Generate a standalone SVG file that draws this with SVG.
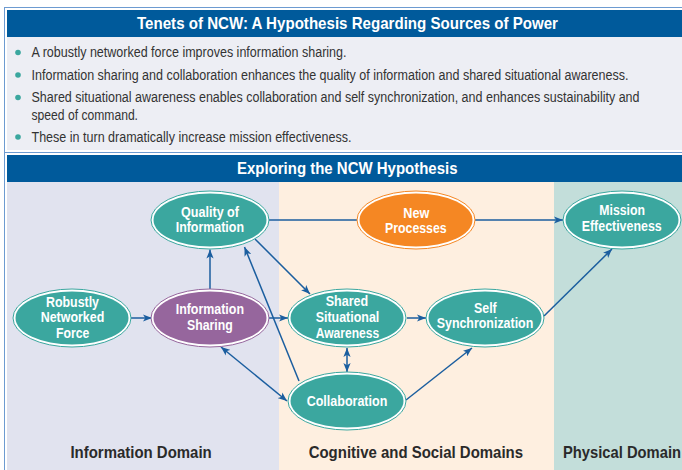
<svg xmlns="http://www.w3.org/2000/svg" width="682" height="470" viewBox="0 0 682 470">
<defs>
<style>
.bar{fill:#005A9B}
.ttl{font-family:"Liberation Sans Narrow","Liberation Sans",Arial,sans-serif;font-weight:bold;font-size:17px;fill:#fff}
.bul{font-family:"Liberation Sans Narrow","Liberation Sans",Arial,sans-serif;font-size:14px;fill:#333}
.dot{fill:#3BA79F}
.dom{font-family:"Liberation Sans Narrow","Liberation Sans",Arial,sans-serif;font-weight:bold;font-size:16.5px;fill:#2A2A2A}
.lbl{font-family:"Liberation Sans Narrow","Liberation Sans",Arial,sans-serif;font-weight:bold;font-size:14.5px;fill:#fff}
.ring{fill:#fff;stroke-width:1}
.teal .ring{stroke:#3BA79F}.teal .core{fill:#3BA79F}
.purple .ring{stroke:#96669D}.purple .core{fill:#96669D}
.orange .ring{stroke:#F58723}.orange .core{fill:#F58723}
.edge{fill:none;stroke:#1B5E9F;stroke-width:1.5}
.frame{fill:none;stroke:#6D9BD1;stroke-width:1}
</style>
<marker id="ah" viewBox="0 0 10 8" markerWidth="9" markerHeight="7.5" refX="10" refY="4" orient="auto-start-reverse" markerUnits="userSpaceOnUse">
<path d="M0,0 L10,4 L0,8 L2.5,4 z" fill="#1B5E9F"/>
</marker>
</defs>
<rect x="0" y="0" width="682" height="470" fill="#fff"/>

<g id="tenets-panel">
<rect class="frame" x="4.5" y="7.5" width="690" height="145"/>
<rect class="bar" x="7" y="10" width="680" height="27"/>
<rect x="7" y="37" width="680" height="113" fill="#EDEEF4"/>
<text class="ttl" x="137" y="29" textLength="421" lengthAdjust="spacingAndGlyphs">Tenets of NCW: A Hypothesis Regarding Sources of Power</text>
<circle class="dot" cx="18" cy="52.5" r="2.8"/>
<circle class="dot" cx="18" cy="75" r="2.8"/>
<circle class="dot" cx="18" cy="97.5" r="2.8"/>
<circle class="dot" cx="18" cy="137" r="2.8"/>
<text class="bul" x="31.5" y="57" textLength="315" lengthAdjust="spacingAndGlyphs">A robustly networked force improves information sharing.</text>
<text class="bul" x="31.5" y="79.5" textLength="597" lengthAdjust="spacingAndGlyphs">Information sharing and collaboration enhances the quality of information and shared situational awareness.</text>
<text class="bul" x="31.5" y="102" textLength="608" lengthAdjust="spacingAndGlyphs">Shared situational awareness enables collaboration and self synchronization, and enhances sustainability and</text>
<text class="bul" x="31.5" y="119.5" textLength="106.5" lengthAdjust="spacingAndGlyphs">speed of command.</text>
<text class="bul" x="31.5" y="141.5" textLength="320" lengthAdjust="spacingAndGlyphs">These in turn dramatically increase mission effectiveness.</text>
</g>

<g id="hypothesis-panel">
<rect class="frame" x="4.5" y="152.5" width="690" height="330"/>
<rect class="bar" x="7" y="155" width="680" height="27"/>
<text class="ttl" x="237" y="174" textLength="220.5" lengthAdjust="spacingAndGlyphs">Exploring the NCW Hypothesis</text>
<rect x="7" y="182" width="272" height="288" fill="#E1E3EF"/>
<rect x="279" y="182" width="275" height="288" fill="#FEEFE0"/>
<rect x="554" y="182" width="128" height="288" fill="#C3DEDA"/>
<text class="dom" x="70.4" y="458" textLength="141.3" lengthAdjust="spacingAndGlyphs">Information Domain</text>
<text class="dom" x="308.7" y="458" textLength="214.3" lengthAdjust="spacingAndGlyphs">Cognitive and Social Domains</text>
<text class="dom" x="563" y="458" textLength="118" lengthAdjust="spacingAndGlyphs">Physical Domain</text>
</g>

<g id="connectors">
<path class="edge" d="M131,318 L152,318" marker-end="url(#ah)"/>
<path class="edge" d="M210,289 L210,249.5" marker-end="url(#ah)"/>
<path class="edge" d="M268,318 L288,318" marker-end="url(#ah)"/>
<path class="edge" d="M255,239 L310,294" marker-end="url(#ah)"/>
<path class="edge" d="M299,381 L244.5,247" marker-end="url(#ah)"/>
<path class="edge" d="M221,347 L287,401" marker-start="url(#ah)" marker-end="url(#ah)"/>
<path class="edge" d="M347,348 L347,372" marker-start="url(#ah)" marker-end="url(#ah)"/>
<path class="edge" d="M407,318 L426,318" marker-end="url(#ah)"/>
<path class="edge" d="M406,400 L472,348" marker-end="url(#ah)"/>
<path class="edge" d="M269,220 L357,220"/>
<path class="edge" d="M475,220 L563,220" marker-end="url(#ah)"/>
<path class="edge" d="M544,316 L612,249" marker-end="url(#ah)"/>
</g>

<g id="quality-of-information" class="teal">
<ellipse class="ring" cx="210" cy="220" rx="59" ry="29"/>
<ellipse class="core" cx="210" cy="220" rx="56.5" ry="26.5"/>
<text class="lbl" x="181" y="216.5" textLength="58" lengthAdjust="spacingAndGlyphs">Quality of</text>
<text class="lbl" x="175.7" y="232" textLength="68.3" lengthAdjust="spacingAndGlyphs">Information</text>
</g>

<g id="robustly-networked-force" class="teal">
<ellipse class="ring" cx="72" cy="318" rx="59" ry="29"/>
<ellipse class="core" cx="72" cy="318" rx="56.5" ry="26.5"/>
<text class="lbl" x="46" y="306.5" textLength="53" lengthAdjust="spacingAndGlyphs">Robustly</text>
<text class="lbl" x="40.7" y="322" textLength="63.6" lengthAdjust="spacingAndGlyphs">Networked</text>
<text class="lbl" x="56" y="337.5" textLength="33.3" lengthAdjust="spacingAndGlyphs">Force</text>
</g>

<g id="information-sharing" class="purple">
<ellipse class="ring" cx="210" cy="318" rx="59" ry="29"/>
<ellipse class="core" cx="210" cy="318" rx="56.5" ry="26.5"/>
<text class="lbl" x="175.7" y="314" textLength="68.3" lengthAdjust="spacingAndGlyphs">Information</text>
<text class="lbl" x="187" y="329.5" textLength="45.7" lengthAdjust="spacingAndGlyphs">Sharing</text>
</g>

<g id="shared-situational-awareness" class="teal">
<ellipse class="ring" cx="347" cy="318" rx="59" ry="29"/>
<ellipse class="core" cx="347" cy="318" rx="56.5" ry="26.5"/>
<text class="lbl" x="325.7" y="306" textLength="42.6" lengthAdjust="spacingAndGlyphs">Shared</text>
<text class="lbl" x="315.7" y="322" textLength="63.6" lengthAdjust="spacingAndGlyphs">Situational</text>
<text class="lbl" x="315.7" y="337.5" textLength="63.6" lengthAdjust="spacingAndGlyphs">Awareness</text>
</g>

<g id="collaboration" class="teal">
<ellipse class="ring" cx="347" cy="401" rx="59" ry="29"/>
<ellipse class="core" cx="347" cy="401" rx="56.5" ry="26.5"/>
<text class="lbl" x="306.7" y="406" textLength="80.6" lengthAdjust="spacingAndGlyphs">Collaboration</text>
</g>

<g id="self-synchronization" class="teal">
<ellipse class="ring" cx="485" cy="318" rx="59" ry="29"/>
<ellipse class="core" cx="485" cy="318" rx="56.5" ry="26.5"/>
<text class="lbl" x="474" y="312.5" textLength="22.7" lengthAdjust="spacingAndGlyphs">Self</text>
<text class="lbl" x="436.7" y="328" textLength="96.6" lengthAdjust="spacingAndGlyphs">Synchronization</text>
</g>

<g id="new-processes" class="orange">
<ellipse class="ring" cx="416" cy="220" rx="59" ry="29"/>
<ellipse class="core" cx="416" cy="220" rx="56.5" ry="26.5"/>
<text class="lbl" x="403.3" y="217.5" textLength="26" lengthAdjust="spacingAndGlyphs">New</text>
<text class="lbl" x="385" y="233" textLength="61.7" lengthAdjust="spacingAndGlyphs">Processes</text>
</g>

<g id="mission-effectiveness" class="teal">
<ellipse class="ring" cx="622" cy="220" rx="59" ry="29"/>
<ellipse class="core" cx="622" cy="220" rx="56.5" ry="26.5"/>
<text class="lbl" x="599.3" y="215" textLength="45.7" lengthAdjust="spacingAndGlyphs">Mission</text>
<text class="lbl" x="581.7" y="230.5" textLength="80" lengthAdjust="spacingAndGlyphs">Effectiveness</text>
</g>
</svg>
